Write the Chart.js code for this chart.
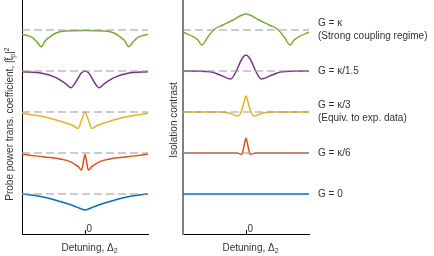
<!DOCTYPE html>
<html>
<head>
<meta charset="utf-8">
<script src="https://cdn.jsdelivr.net/npm/chart.js@4.4.0/dist/chart.umd.min.js"></script>
<style>
  body { margin: 0; background: #fff; }
  .panel { position: absolute; top: 0; height: 256px; }
  #leftBox { left: 0; width: 160px; }
  #rightBox { left: 160px; width: 274px; }
</style>
</head>
<body>
<div class="panel" id="leftBox"><canvas id="leftChart"></canvas></div>
<div class="panel" id="rightBox"><canvas id="rightChart"></canvas></div>
<script>
// rows from bottom to top: G = 0, k/6, k/3, k/1.5, k
const rowColors = ["#0072BD", "#D95319", "#EDB120", "#7E2F8E", "#77AC30"];
const rowLabels = [
  ["G = 0"],
  ["G = κ/6"],
  ["G = κ/3", "(Equiv. to exp. data)"],
  ["G = κ/1.5"],
  ["G = κ", "(Strong coupling regime)"],
];
const baseline = 1;
const detRange = [-3, 3];

// left panel: probe power transmission (1 = baseline)
const blueDetL = [-3, -2.05, -1.43, -0.78, -0.38, 0, 0.38, 0.78, 1.43, 2.05, 3];
const blueTL = [1.0, 0.934, 0.854, 0.756, 0.68, 0.61, 0.68, 0.756, 0.854, 0.934, 1.0];
const orangeDetL = [-3, -2.38, -1.67, -1.19, -0.71, -0.32, -0.16, -0.07, 0, 0.07, 0.16, 0.32, 0.71, 1.19, 1.67, 2.38, 3];
const orangeTL = [0.976, 0.93, 0.89, 0.855, 0.79, 0.666, 0.585, 0.805, 0.963, 0.805, 0.585, 0.666, 0.79, 0.855, 0.89, 0.93, 0.976];
const yellowDetL = [-3, -2.38, -1.67, -0.87, -0.57, -0.33, -0.16, 0, 0.16, 0.33, 0.57, 0.87, 1.67, 2.38, 3];
const yellowTL = [0.968, 0.92, 0.846, 0.724, 0.67, 0.6, 0.805, 0.993, 0.805, 0.6, 0.67, 0.724, 0.846, 0.92, 0.968];
const purpleDetL = [-3, -2.05, -1.41, -0.94, -0.67, -0.38, -0.19, 0, 0.19, 0.38, 0.67, 0.94, 1.41, 2.05, 3];
const purpleTL = [0.983, 0.944, 0.846, 0.7, 0.593, 0.78, 0.944, 1.0, 0.944, 0.78, 0.593, 0.7, 0.846, 0.944, 0.983];
const greenDetL = [-3, -2.52, -2.29, -2.08, -1.89, -1.65, -1.41, -0.94, 0, 0.94, 1.41, 1.65, 1.89, 2.08, 2.29, 2.52, 3];
const greenTL = [0.9, 0.82, 0.71, 0.59, 0.74, 0.84, 0.92, 0.975, 0.99, 0.975, 0.92, 0.84, 0.74, 0.59, 0.71, 0.82, 0.9];

// right panel: isolation contrast (1 = baseline)
const blueDetR = [-3, 3];
const blueCR = [1.0, 1.0];
const orangeDetR = [-3, -0.48, -0.2, -0.1, 0, 0.1, 0.2, 0.48, 3];
const orangeCR = [1.0, 1.0, 0.968, 1.154, 1.36, 1.154, 0.968, 1.0, 1.0];
const yellowDetR = [-3, -1.24, -0.76, -0.37, -0.2, -0.11, 0, 0.11, 0.2, 0.37, 0.76, 1.24, 3];
const yellowCR = [1.0, 1.0, 0.968, 0.902, 1.049, 1.21, 1.39, 1.21, 1.049, 0.902, 0.968, 1.0, 1.0];
const purpleDetR = [-3, -1.71, -1.24, -0.73, -0.46, -0.3, -0.15, 0, 0.15, 0.3, 0.46, 0.73, 1.24, 1.71, 3];
const purpleCR = [1.0, 0.983, 0.902, 0.805, 1.0, 1.188, 1.33, 1.39, 1.33, 1.188, 1.0, 0.805, 0.902, 0.983, 1.0];
const greenDetR = [-3, -2.52, -2.29, -2.1, -1.81, -1.49, -1.1, -0.62, 0, 0.62, 1.1, 1.49, 1.81, 2.1, 2.29, 2.52, 3];
const greenCR = [0.944, 0.837, 0.756, 0.634, 0.837, 1.024, 1.122, 1.244, 1.39, 1.244, 1.122, 1.024, 0.837, 0.634, 0.756, 0.837, 0.944];

const textColor = "#333";
const fontName = '"Liberation Sans", Arial, sans-serif';

function drawRuns(ctx, runs, cx, cy, angle) {
  ctx.save();
  ctx.translate(cx, cy);
  ctx.rotate(angle);
  ctx.textBaseline = "alphabetic";
  ctx.textAlign = "left";
  let total = 0;
  runs.forEach((r) => {
    ctx.font = `${r.s}px ${fontName}`;
    total += ctx.measureText(r.t).width;
  });
  let x = -total / 2;
  runs.forEach((r) => {
    ctx.font = `${r.s}px ${fontName}`;
    ctx.fillText(r.t, x, 3.5 + (r.dy || 0));
    x += ctx.measureText(r.t).width;
  });
  ctx.restore();
}

const panelText = {
  id: "panelText",
  afterDraw(chart, args, opts) {
    const { ctx, chartArea, scales } = chart;
    ctx.save();
    ctx.fillStyle = textColor;
    // the single "0" tick, pointing inward
    const x0 = scales.x.getPixelForValue(0);
    ctx.strokeStyle = "#000";
    ctx.lineWidth = 1;
    ctx.beginPath();
    ctx.moveTo(Math.round(x0) + 0.5, chartArea.bottom - 4);
    ctx.lineTo(Math.round(x0) + 0.5, chartArea.bottom);
    ctx.stroke();
    ctx.font = `10px ${fontName}`;
    ctx.textAlign = "left";
    ctx.textBaseline = "middle";
    ctx.fillText("0", x0 + 1.5, chartArea.bottom - 5);

    const midX = (chartArea.left + chartArea.right) / 2;
    drawRuns(ctx, [{ t: "Detuning, Δ", s: 10 }, { t: "2", s: 7, dy: 2.5 }], midX + 4.5, 247, 0);
    drawRuns(ctx, opts.yTitle, chartArea.left + opts.yTitleDx, opts.yTitleY, -Math.PI / 2);

    if (opts.rowText) {
      ctx.font = `10px ${fontName}`;
      ctx.textAlign = "left";
      ctx.textBaseline = "middle";
      rowLabels.forEach((lines, k) => {
        const y = scales.y.getPixelForValue(baseline + k);
        const tx = chartArea.right + 9;
        if (lines.length === 1) {
          ctx.fillText(lines[0], tx, y);
        } else {
          ctx.fillText(lines[0], tx, y - 6.5);
          ctx.fillText(lines[1], tx, y + 6);
        }
      });
    }
    ctx.restore();
  },
};

function makeDatasets(dets, vals, dashedRows, topRows) {
  const sets = [];
  dets.forEach((det, k) => {
    sets.push({
      data: det.map((d, i) => ({ x: d, y: vals[k][i] + k })),
      borderColor: rowColors[k],
      borderWidth: 1.5,
      cubicInterpolationMode: "monotone",
      order: topRows.includes(k) ? 0 : 2,
    });
  });
  dashedRows.forEach((k) => {
    sets.push({
      data: detRange.map((d) => ({ x: d, y: baseline + k })),
      borderColor: "#9a9a9a",
      borderWidth: 1.2,
      borderDash: [8, 4],
      order: 1,
    });
  });
  return sets;
}

function makeChart(id, datasets, rightPad, axisW, yBorder, textOpts) {
  return new Chart(document.getElementById(id), {
    type: "line",
    data: { datasets },
    plugins: [panelText],
    options: {
      responsive: true,
      maintainAspectRatio: false,
      animation: false,
      layout: { padding: { left: 0, right: rightPad, top: 0, bottom: 0 } },
      elements: { point: { radius: 0 } },
      plugins: {
        legend: { display: false },
        tooltip: { enabled: false },
        panelText: textOpts,
      },
      scales: {
        x: {
          type: "linear",
          min: detRange[0],
          max: detRange[1],
          grid: { display: false },
          ticks: { display: false },
          border: { color: "#000", width: 1 },
          afterFit: (s) => { s.height = 22; },
        },
        y: {
          min: 0.0244,
          max: 5.732,
          grid: { display: false },
          ticks: { display: false },
          border: yBorder,
          afterFit: (s) => { s.width = axisW; },
        },
      },
    },
  });
}

document.addEventListener("DOMContentLoaded", () => {
  makeChart(
    "leftChart",
    makeDatasets(
      [blueDetL, orangeDetL, yellowDetL, purpleDetL, greenDetL],
      [blueTL, orangeTL, yellowTL, purpleTL, greenTL],
      [0, 1, 2, 3, 4],
      []
    ),
    12,
    22,
    { color: "#000", width: 1 },
    {
      yTitle: [
        { t: "Probe power trans. coefficient, |t\u0303", s: 10 },
        { t: "p", s: 7, dy: 2 },
        { t: "|", s: 10 },
        { t: "2", s: 7, dy: -4 },
      ],
      yTitleDx: -12.5,
      yTitleY: 124,
      rowText: false,
    }
  );
  makeChart(
    "rightChart",
    makeDatasets(
      [blueDetR, orangeDetR, yellowDetR, purpleDetR, greenDetR],
      [blueCR, orangeCR, yellowCR, purpleCR, greenCR],
      [1, 2, 3, 4],
      [0]
    ),
    125,
    23,
    { color: "#808080", width: 2 },
    {
      yTitle: [{ t: "Isolation contrast", s: 10 }],
      yTitleDx: -10,
      yTitleY: 120,
      rowText: true,
    }
  );
});
</script>
</body>
</html>
